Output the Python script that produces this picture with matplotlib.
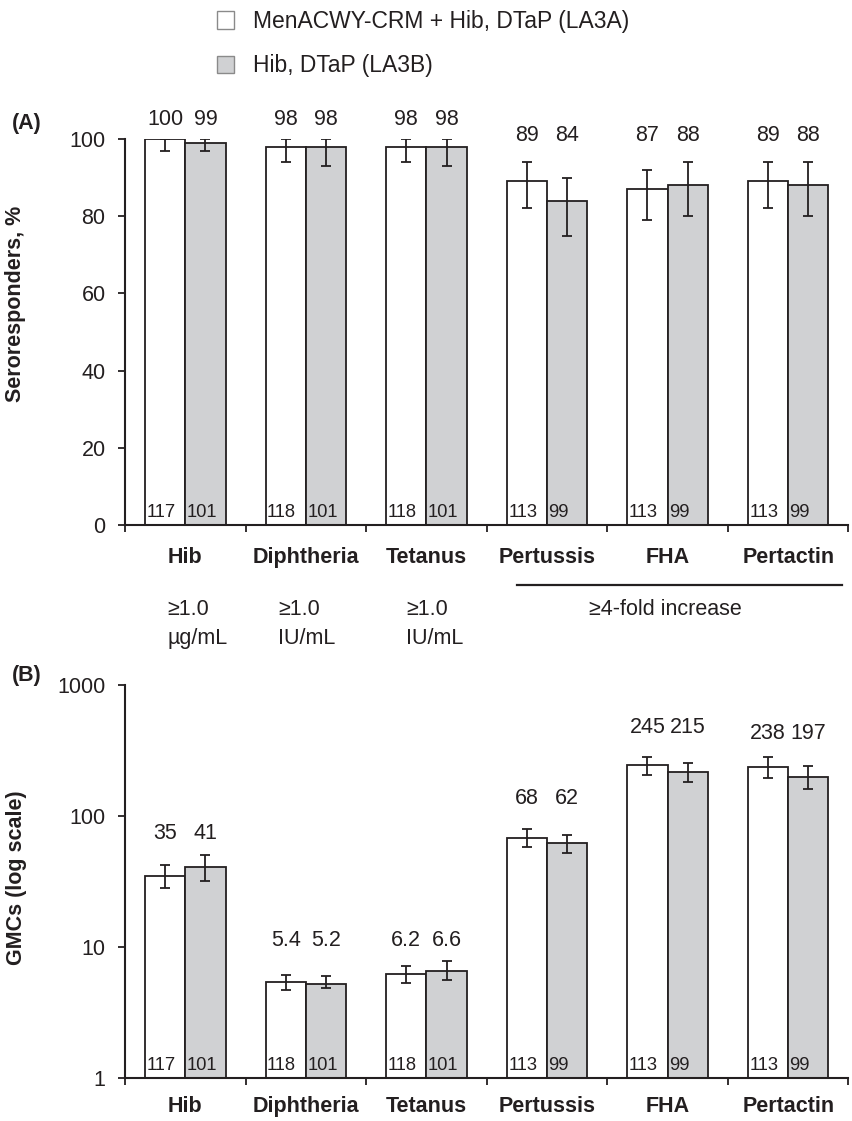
"""
Seroresponse (A) and GMCs (B) for Hib / DTaP antigens, LA3A vs LA3B.
"""
import matplotlib
matplotlib.use("Agg")
import matplotlib.pyplot as plt
import matplotlib.transforms as mtrans
import numpy as np

plt.rcParams["font.family"] = ["Liberation Sans", "DejaVu Sans"]
plt.rcParams["text.color"] = "#231f20"
plt.rcParams["axes.labelcolor"] = "#231f20"
plt.rcParams["xtick.color"] = "#231f20"
plt.rcParams["ytick.color"] = "#231f20"

# ---- data ----
antigens = ["Hib", "Diphtheria", "Tetanus", "Pertussis", "FHA", "Pertactin"]
series = ["MenACWY-CRM + Hib, DTaP (LA3A)", "Hib, DTaP (LA3B)"]

n_la3a = [117, 118, 118, 113, 113, 113]
n_la3b = [101, 101, 101, 99, 99, 99]

sero_la3a = [100, 98, 98, 89, 87, 89]
sero_la3a_lo = [97, 94, 94, 82, 79, 82]
sero_la3a_hi = [100, 100, 100, 94, 92, 94]
sero_la3b = [99, 98, 98, 84, 88, 88]
sero_la3b_lo = [97, 93, 93, 75, 80, 80]
sero_la3b_hi = [100, 100, 100, 90, 94, 94]

gmc_la3a = [35, 5.4, 6.2, 68, 245, 238]
gmc_la3a_lo = [28, 4.7, 5.3, 58, 204, 196]
gmc_la3a_hi = [42, 6.1, 7.2, 80, 282, 284]
gmc_la3b = [41, 5.2, 6.6, 62, 215, 197]
gmc_la3b_lo = [32, 4.9, 5.6, 52, 182, 160]
gmc_la3b_hi = [50, 6.0, 7.8, 72, 252, 240]

thresh_top = ["\u22651.0", "\u22651.0", "\u22651.0"]
thresh_unit = ["\u00b5g/mL", "IU/mL", "IU/mL"]
fold_label = "\u22654-fold increase"

# ---- layout (not data) ----
label_y_a = [105, 105, 105, 101, 101, 101]
label_y_b = [74, 11.3, 11.3, 137, 470, 430]
thresh_dx = [-0.15, -0.23, -0.17]

WHITE = "white"
GREY = "#d0d1d3"
EDGE = "#231f20"
W = 0.334
FS = 15.5


def draw_panel(ax, va, va_lo, va_hi, vb, vb_lo, vb_hi, label_y, fmt):
    x = np.arange(len(antigens))
    ea = [np.subtract(va, va_lo), np.subtract(va_hi, va)]
    eb = [np.subtract(vb, vb_lo), np.subtract(vb_hi, vb)]
    kw = dict(width=W, edgecolor=EDGE, linewidth=1.3,
              error_kw=dict(ecolor=EDGE, elinewidth=1.3, capsize=3.8, capthick=1.3))
    ba = ax.bar(x - W / 2, va, color=WHITE, yerr=ea, label=series[0], **kw)
    bb = ax.bar(x + W / 2, vb, color=GREY, yerr=eb, label=series[1], **kw)
    for i in range(len(x)):
        ax.text(x[i] - W / 2, label_y[i], fmt(va[i]), ha="center", va="center", fontsize=FS)
        ax.text(x[i] + W / 2, label_y[i], fmt(vb[i]), ha="center", va="center", fontsize=FS)
    # n counts at the foot of each bar
    trans = mtrans.blended_transform_factory(ax.transData, ax.transAxes)
    for i in range(len(x)):
        for xs, n in ((x[i] - W, n_la3a[i]), (x[i], n_la3b[i])):
            ax.annotate(str(n), xy=(xs, 0), xycoords=trans, xytext=(1.0, 3),
                        textcoords="offset points", ha="left", va="bottom",
                        fontsize=13.2)
    ax.set_xlim(-0.5, len(antigens) - 0.5)
    ax.set_xticks(np.arange(len(antigens) + 1) - 0.5)
    ax.set_xticklabels([])
    ax.set_xticks(x, minor=True)
    ax.set_xticklabels(antigens, minor=True, fontweight="bold", fontsize=FS)
    ax.tick_params(axis="x", which="major", direction="out", length=5, width=1.3)
    ax.tick_params(axis="y", which="major", direction="out", length=5, width=1.3,
                   labelsize=FS, pad=9)
    for s in ("top", "right"):
        ax.spines[s].set_visible(False)
    for s in ("left", "bottom"):
        ax.spines[s].set_linewidth(1.5)
        ax.spines[s].set_color(EDGE)
    return ba, bb, trans


fig = plt.figure(figsize=(8.53, 11.21), dpi=100)
H = 1121.0
Wd = 853.0
x0, x1 = 125 / Wd, 848.5 / Wd

# ---- panel A ----
axA = fig.add_axes([x0, 1 - 525 / H, x1 - x0, (525 - 139) / H])
ba, bb, transA = draw_panel(axA, sero_la3a, sero_la3a_lo, sero_la3a_hi,
                            sero_la3b, sero_la3b_lo, sero_la3b_hi,
                            label_y_a, lambda v: f"{v:g}")
axA.set_ylim(0, 100)
axA.set_yticks([0, 20, 40, 60, 80, 100])
axA.tick_params(axis="x", which="minor", length=0, pad=16)
axA.set_ylabel("Seroresponders, %", fontweight="bold", fontsize=FS)
axA.yaxis.set_label_coords(-0.137, 0.573)
for t in axA.texts:
    t.set_clip_on(False)

for i in range(3):
    axA.text(i + thresh_dx[i], -0.22, thresh_top[i], transform=transA,
             ha="left", va="center", fontsize=FS)
    axA.text(i + thresh_dx[i], -0.295, thresh_unit[i], transform=transA,
             ha="left", va="center", fontsize=FS)
axA.plot([2.75, 5.45], [-0.155, -0.155], transform=transA, color=EDGE,
         linewidth=1.6, clip_on=False)
axA.text(3.98, -0.22, fold_label, transform=transA, ha="center", va="center",
         fontsize=FS)

# ---- panel B ----
axB = fig.add_axes([x0, 1 - 1078 / H, x1 - x0, (1078 - 685) / H])
draw_panel(axB, gmc_la3a, gmc_la3a_lo, gmc_la3a_hi,
           gmc_la3b, gmc_la3b_lo, gmc_la3b_hi,
           label_y_b, lambda v: f"{v:g}")
axB.set_yscale("log")
axB.set_ylim(1, 1000)
axB.set_yticks([1, 10, 100, 1000])
axB.set_yticklabels(["1", "10", "100", "1000"])
axB.yaxis.set_minor_locator(matplotlib.ticker.NullLocator())
axB.tick_params(axis="x", which="minor", length=0, pad=13)
axB.set_ylabel("GMCs (log scale)", fontweight="bold", fontsize=FS)
axB.yaxis.set_label_coords(-0.1355, 0.509)

fig.text(12 / Wd, 1 - 123 / H, "(A)", fontweight="bold", fontsize=FS, va="center")
fig.text(12 / Wd, 1 - 675 / H, "(B)", fontweight="bold", fontsize=FS, va="center")

leg = fig.legend(handles=[ba, bb], loc="upper left",
                 bbox_to_anchor=(216.7 / Wd, 1 - 10 / H), frameon=False,
                 fontsize=16.5, handlelength=0.77, handleheight=0.77,
                 handletextpad=0.8, labelspacing=0.93, borderpad=0,
                 borderaxespad=0)
for h in leg.legend_handles:
    h.set_edgecolor("#8a8a8a")
    h.set_linewidth(1.0)

fig.savefig("out.png", dpi=100)
